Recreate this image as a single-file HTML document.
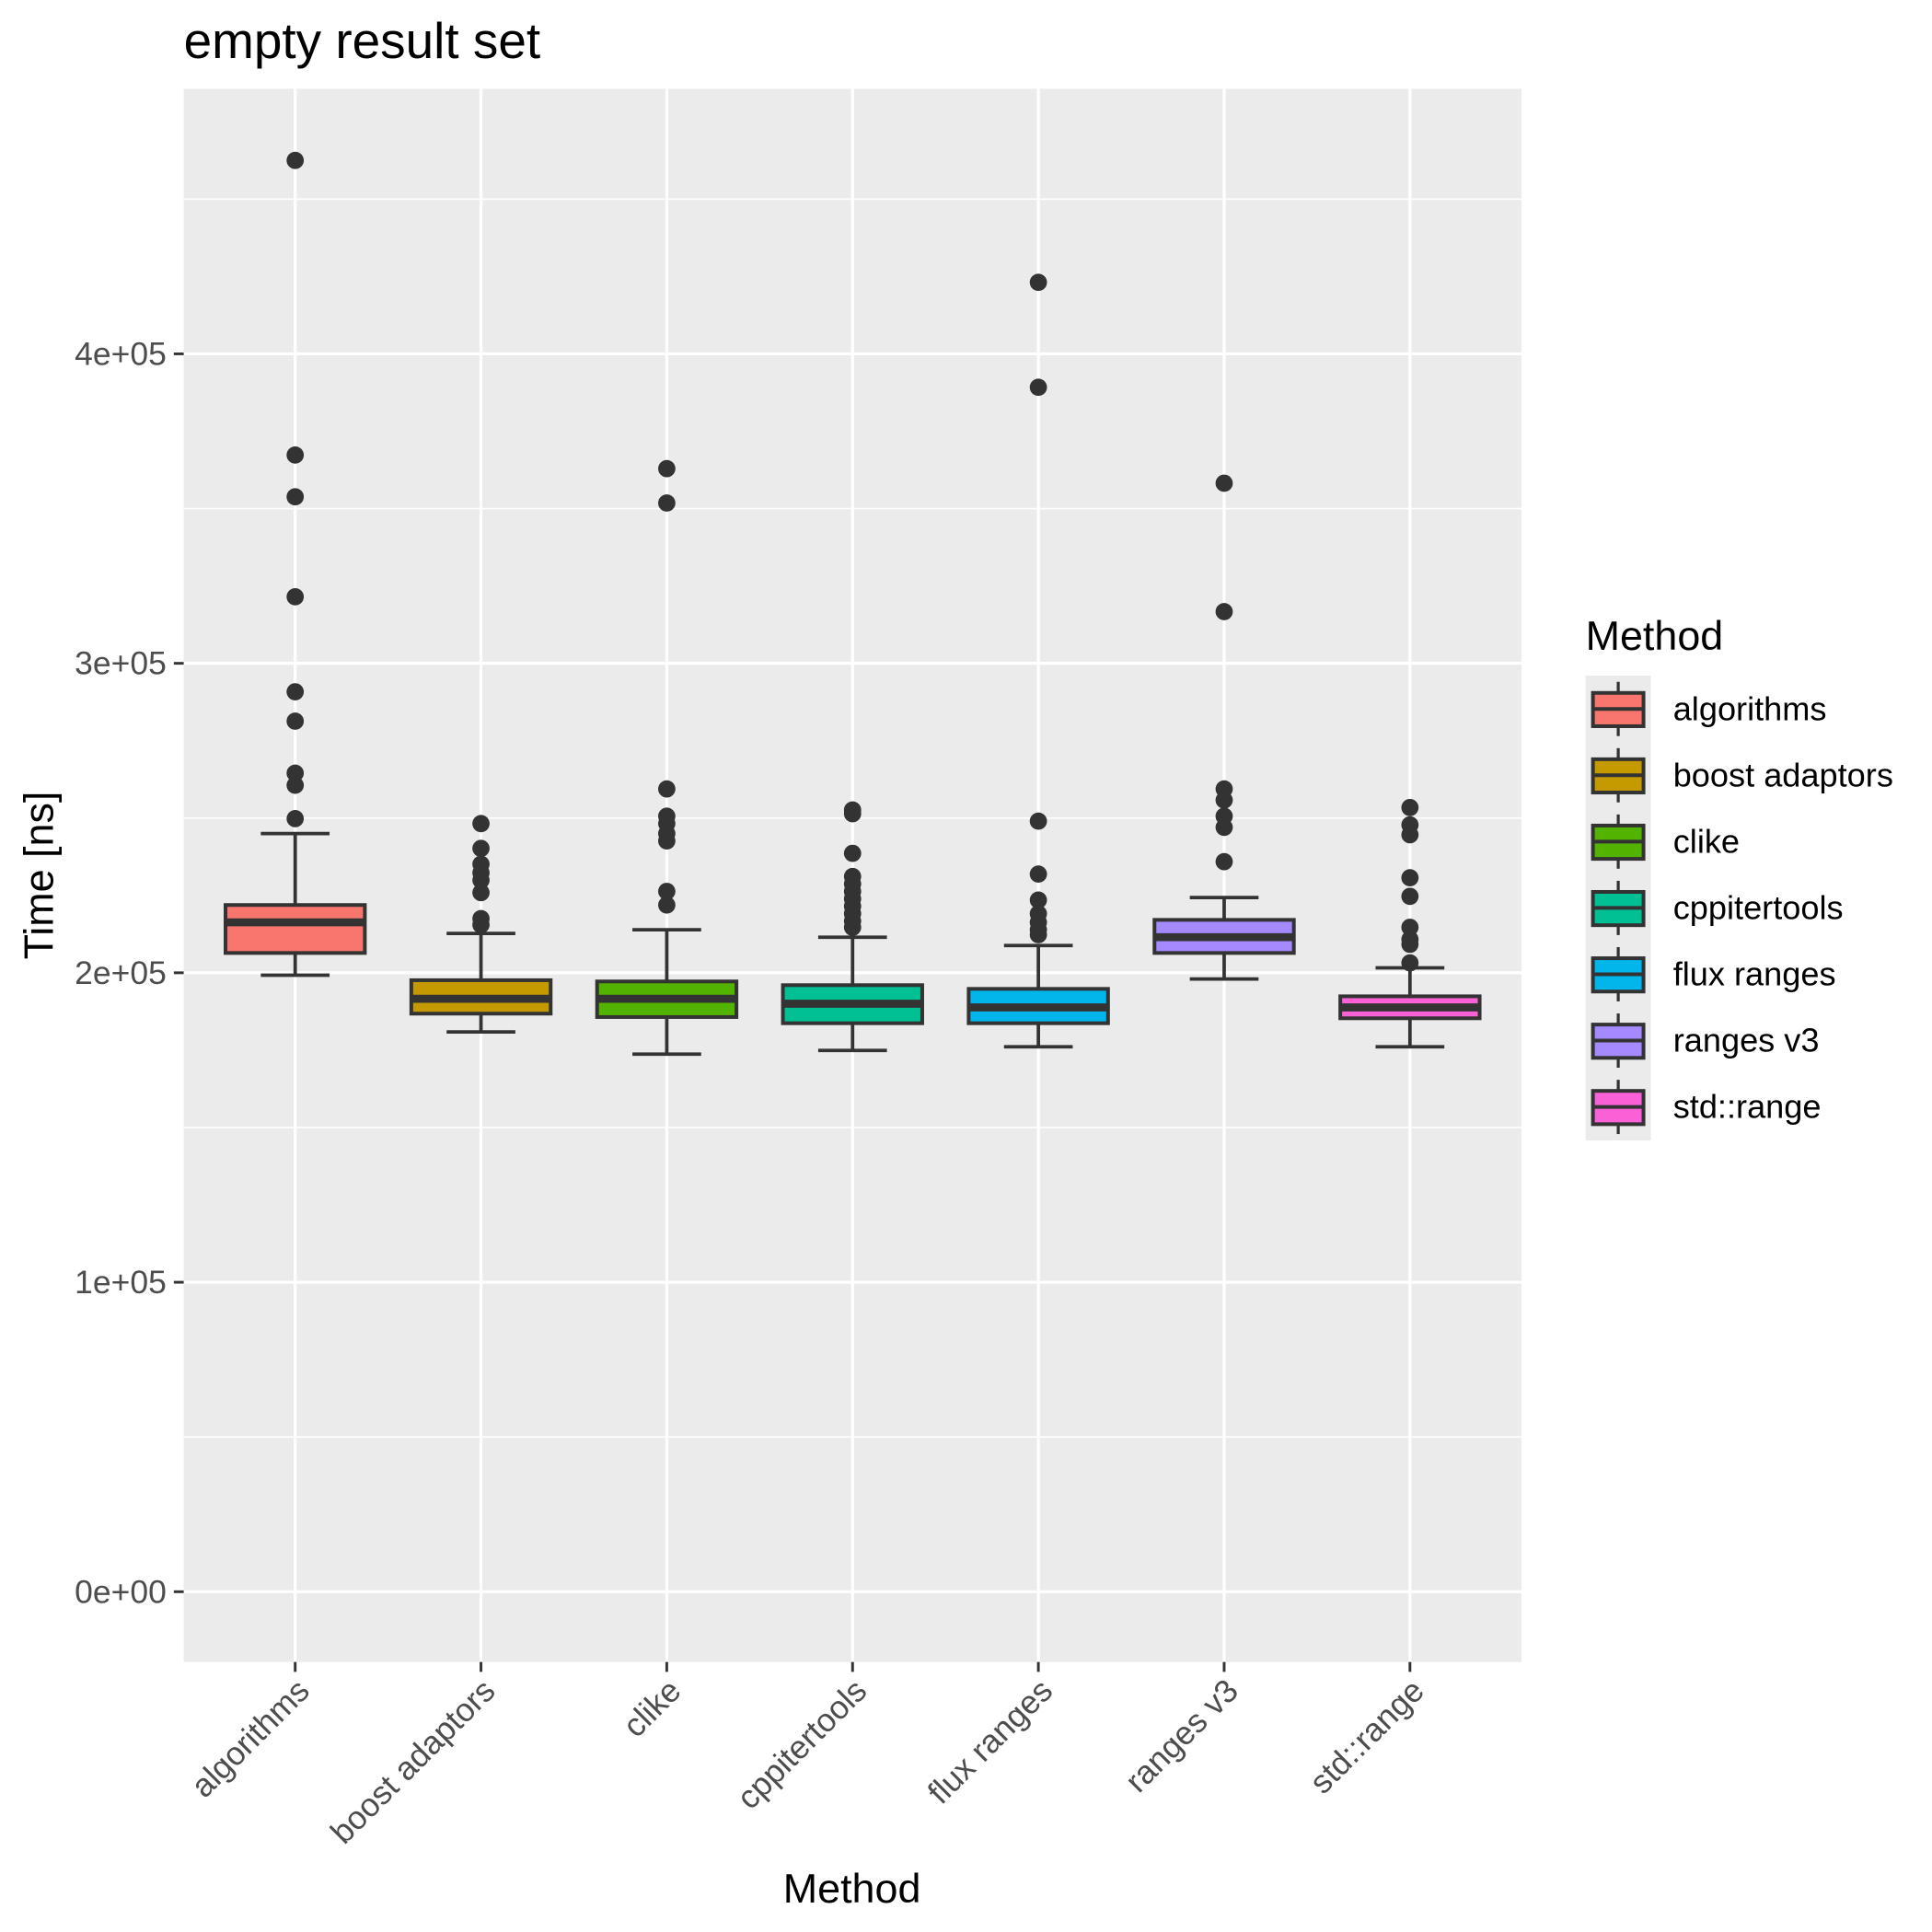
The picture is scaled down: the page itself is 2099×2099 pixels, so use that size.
<!DOCTYPE html>
<html><head><meta charset="utf-8"><style>
html,body{margin:0;padding:0;background:#fff;}
svg{display:block;font-family:"Liberation Sans",Arial,sans-serif;}
</style></head><body>
<svg id="chart" width="2099" height="2099" viewBox="0 0 1567 1567" xmlns="http://www.w3.org/2000/svg">
<rect x="0" y="0" width="1567" height="1567" fill="#fff"/>
<text x="149" y="47" font-size="41" fill="#000">empty result set</text>
<rect x="149" y="72" width="1085" height="1276" fill="#ebebeb"/>
<g id="grid"></g>
<g id="marks"></g>
<g id="axes"></g>
<text x="691" y="1543" font-size="33.5" text-anchor="middle" fill="#000">Method</text>
<text x="0" y="0" font-size="33.5" text-anchor="middle" fill="#000" transform="translate(43,710) rotate(-90)">Time [ns]</text>
<g id="legend">
<text x="1286" y="527" font-size="33.5" fill="#000">Method</text>
<rect x="1286" y="548" width="53" height="377" fill="#ebebeb"/>
</g>
</svg>
<script>
const categories = ["algorithms","boost adaptors","clike","cppitertools","flux ranges","ranges v3","std::range"];
const colors = ["#F8766D","#C49A00","#53B400","#00C094","#00B6EB","#A58AFF","#FB61D7"];
const q1 = [206400,186800,185700,183700,183700,206400,185300];
const medians = [216300,191600,191600,190000,188800,211500,188800];
const q3 = [221900,197600,197200,196000,194800,217100,192400];
const whiskerLow = [199200,180900,173700,174900,176100,198000,176100];
const whiskerHigh = [245000,212700,213900,211500,208800,224300,201600];
const outliers = [
 [462500,367300,353800,321500,290800,281300,264500,260600,249800],
 [248200,240200,235100,232300,229900,225900,217500,215500],
 [362900,351800,259400,250600,248200,245000,242600,226300,221900],
 [252600,251400,238600,231100,228700,226300,223900,221500,219100,216700,214700],
 [423100,389200,249000,231900,223500,219100,216300,213900,212300],
 [358200,316700,259400,255800,250600,247000,235900],
 [253400,247800,244600,230700,224700,214700,210800,209200,203200]
];
const yTicks = [0,100000,200000,300000,400000];
const yTickLabels = ["0e+00","1e+05","2e+05","3e+05","4e+05"];
const yMinor = [50000,150000,250000,350000,450000];

const NS="http://www.w3.org/2000/svg";
const px0=149, px1=1234;
const step=(px1-px0)/7.2;
function xScale(i){return px0+step*(0.6+i);}
function yScale(v){return 1291-(v/100000)*251;}
function mk(tag,attrs,parent){const e=document.createElementNS(NS,tag);for(const k in attrs)e.setAttribute(k,attrs[k]);parent.appendChild(e);return e;}
const grid=document.getElementById('grid'), marks=document.getElementById('marks'), axes=document.getElementById('axes'), legend=document.getElementById('legend');
yMinor.forEach(v=>{const l=mk('line',{x1:px0,x2:px1,y1:yScale(v),y2:yScale(v),stroke:'#fff','stroke-width':1.2},grid);

});
yTicks.forEach((v,i)=>{const y=yScale(v);
const l=mk('line',{x1:px0,x2:px1,y1:y,y2:y,stroke:'#fff','stroke-width':2.4},grid);


const t=mk('line',{x1:141,x2:149,y1:y,y2:y,stroke:'#333','stroke-width':2.2},axes);


const tx=mk('text',{x:135,y:y+9,'font-size':26.5,'text-anchor':'end',fill:'#4d4d4d'},axes);tx.textContent=yTickLabels[i];

});
categories.forEach((c,i)=>{const x=xScale(i);
const l=mk('line',{x1:x,x2:x,y1:72,y2:1348,stroke:'#fff','stroke-width':2.4},grid);


const t=mk('line',{x1:x,x2:x,y1:1348,y2:1356,stroke:'#333','stroke-width':2.2},axes);


const tx=mk('text',{x:0,y:0,'font-size':26.5,'text-anchor':'end',fill:'#4d4d4d',transform:`translate(${x+13},${1373}) rotate(-45)`},axes);tx.textContent=c;


const g=mk('g',{},marks);


const bw=step*0.75, cw=step*0.37;
mk('line',{x1:x,x2:x,y1:yScale(q3[i]),y2:yScale(whiskerHigh[i]),stroke:'#333','stroke-width':2.8},g);
mk('line',{x1:x,x2:x,y1:yScale(q1[i]),y2:yScale(whiskerLow[i]),stroke:'#333','stroke-width':2.8},g);
mk('line',{x1:x-cw/2,x2:x+cw/2,y1:yScale(whiskerHigh[i]),y2:yScale(whiskerHigh[i]),stroke:'#333','stroke-width':2.8},g);
mk('line',{x1:x-cw/2,x2:x+cw/2,y1:yScale(whiskerLow[i]),y2:yScale(whiskerLow[i]),stroke:'#333','stroke-width':2.8},g);
mk('rect',{x:x-bw/2,y:yScale(q3[i]),width:bw,height:yScale(q1[i])-yScale(q3[i]),fill:colors[i],stroke:'#333','stroke-width':3},g);
mk('line',{x1:x-bw/2,x2:x+bw/2,y1:yScale(medians[i]),y2:yScale(medians[i]),stroke:'#333','stroke-width':6.5},g);
outliers[i].forEach(v=>{const p=mk('circle',{cx:x,cy:yScale(v),r:7,fill:'#333'},g);

});
const ky=575+i*53.8;
const k=mk('g',{},legend);


mk('line',{x1:1312.5,x2:1312.5,y1:ky-22,y2:ky+22,stroke:'#333','stroke-width':2.4},k);
mk('rect',{x:1292,y:ky-13,width:41,height:27,fill:colors[i],stroke:'#333','stroke-width':3},k);
mk('line',{x1:1292,x2:1333,y1:ky,y2:ky,stroke:'#333','stroke-width':3},k);
const lt=mk('text',{x:1357,y:ky+9,'font-size':27,fill:'#000'},k);lt.textContent=c;});
</script>
</body></html>
